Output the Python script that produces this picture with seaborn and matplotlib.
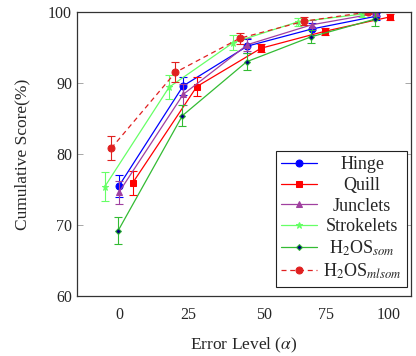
import numpy as np
import pandas as pd
import seaborn as sns
import matplotlib.pyplot as plt
from matplotlib.transforms import IdentityTransform

# Data
levels = [0, 25, 50, 75, 100]
tick_labels = ['0', '25', '50', '75', '100']
tick_pos = [0, 26.8, 56.4, 80.5, 105]

hinge = [75.5, 89.6, 95.2, 97.6, 99.4]
hinge_err = [1.6, 1.3, 1.0, 0.8, 0.5]
quill = [75.9, 89.5, 94.9, 97.3, 99.3]
quill_err = [1.7, 1.3, 0.6, 0.5, 0.4]
junclets = [74.6, 88.4, 95.4, 98.2, 99.8]
junclets_err = [1.6, 1.5, 0.9, 0.7, 0.4]
strokelets = [75.4, 89.4, 95.7, 98.6, 99.7]
strokelets_err = [2.0, 1.7, 1.0, 0.6, 0.4]
h2os_som = [69.2, 85.4, 93.0, 96.5, 99.0]
h2os_som_err = [1.9, 1.5, 1.2, 0.9, 1.0]
h2os_mlsom = [80.8, 91.5, 96.3, 98.7, 100.0]
h2os_mlsom_err = [1.7, 1.4, 0.8, 0.6, 0.3]

series = [
    ('Hinge', hinge, hinge_err),
    ('Quill', quill, quill_err),
    ('Junclets', junclets, junclets_err),
    ('Strokelets', strokelets, strokelets_err),
    (r'H$_2$OS$_{som}$', h2os_som, h2os_som_err),
    (r'H$_2$OS$_{mlsom}$', h2os_mlsom, h2os_mlsom_err),
]

# styles: x shift, line color, marker, marker face, marker edge, marker size, dashed
styles = {
    'Hinge': (0.0, '#0000ff', 'o', '#0000ff', '#0000ff', 5, False),
    'Quill': (5.3, '#ff0000', 's', '#ff0000', '#ff0000', 5, False),
    'Junclets': (0.0, '#a040a0', '^', '#a040a0', '#a040a0', 5, False),
    'Strokelets': (-5.5, '#66ff66', '*', '#66ff66', '#66ff66', 5, False),
    r'H$_2$OS$_{som}$': (-0.3, '#33bb33', 'D', '#000080', '#33bb33', 3, False),
    r'H$_2$OS$_{mlsom}$': (-3.0, '#e02020', 'o', '#e02020', '#e02020', 5, True),
}

sns.set_style('white')
plt.rcParams['font.family'] = ['Liberation Serif', 'DejaVu Serif']
plt.rcParams['mathtext.fontset'] = 'stix'

fig = plt.figure(figsize=(4.16, 3.56), dpi=100)
ax = fig.add_axes([77 / 416, 60 / 356, 334 / 416, 284 / 356])

for name, vals, errs in series:
    shift, col, mk, mfc, mec, ms, dashed = styles[name]
    xs = np.array(levels) + shift
    df = pd.DataFrame({'x': xs, 'y': vals})
    ax.errorbar(xs, vals, yerr=errs, fmt='none', ecolor=col, elinewidth=0.8,
                capsize=3, capthick=0.8)
    sns.lineplot(data=df, x='x', y='y', ax=ax, color=col, marker=mk,
                 markerfacecolor=mfc, markeredgecolor=mec, markersize=ms,
                 linewidth=0.9, linestyle=(0, (4, 3)) if dashed else '-', label=name)

ax.set_xlim(-16.3, 113.6)
ax.set_ylim(60, 100)
ax.set_xticks(tick_pos)
ax.set_xticklabels(tick_labels)
ax.set_yticks([60, 70, 80, 90, 100])
ax.tick_params(axis='x', length=0, labelsize=11.5, pad=8)
ax.tick_params(axis='y', direction='in', length=4, width=0.6, labelsize=11.5,
               right=True, left=True, color='#999999')
for s in ax.spines.values():
    s.set_color('#333333')
    s.set_linewidth(0.9)

ax.set_xlabel(r'Error Level ($\alpha$)', fontsize=12.5, labelpad=9)
ax.set_ylabel('Cumulative Score(%)', fontsize=12.5, labelpad=13)

leg = ax.legend(loc='lower right', bbox_to_anchor=(0.987, 0.033), borderaxespad=0,
                fontsize=13, frameon=True, fancybox=False, edgecolor='#222222',
                framealpha=1, handlelength=2.0, labelspacing=0.2,
                handletextpad=0.3, borderpad=0.3)
leg.get_frame().set_linewidth(0.8)

# center the legend labels like the reference
fig.canvas.draw()
texts = leg.get_texts()
r = fig.canvas.get_renderer()
boxes = [t.get_window_extent(r) for t in texts]
left = min(b.x0 for b in boxes)
right = max(b.x1 for b in boxes)
cx = (left + right) / 2
for t in texts:
    x0, yb = t.get_transform().transform(t.get_position())
    fig.text(cx, yb, t.get_text(), ha='center', va='baseline', fontsize=13,
             transform=IdentityTransform(), zorder=10)
    t.set_alpha(0)

fig.savefig('out.png', dpi=100)
plt.close(fig)
